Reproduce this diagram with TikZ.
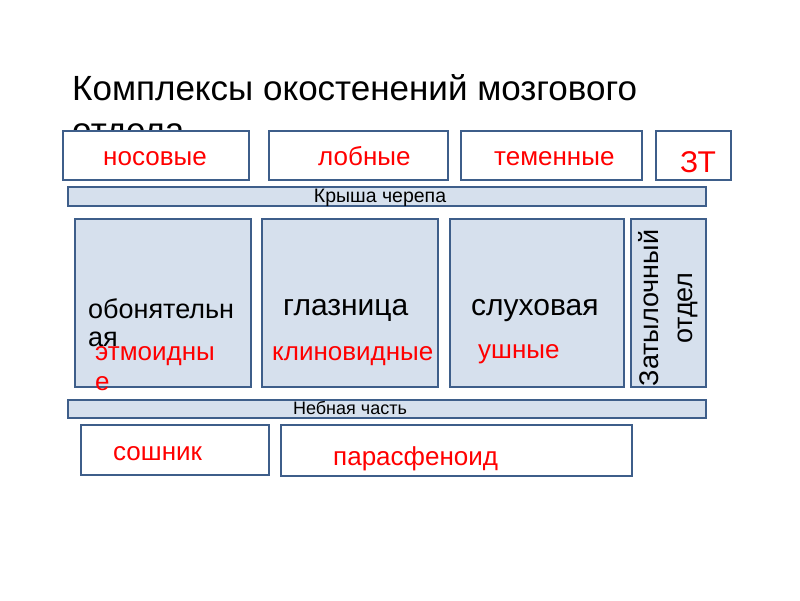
\documentclass[tikz,border=0pt]{standalone}
\usepackage{fontspec}
\setmainfont{Liberation Sans}
\definecolor{boxline}{RGB}{62,94,138}
\definecolor{boxfill}{RGB}{214,224,237}
\definecolor{lblred}{RGB}{255,0,0}
\tikzset{
  whitebox/.style={draw=boxline, line width=1.6pt, fill=white, anchor=north west, inner sep=0, outer sep=0},
  bluebox/.style={draw=boxline, line width=1.6pt, fill=boxfill, anchor=north west, inner sep=0, outer sep=0},
  redlbl/.style={text=lblred, font=\fontsize{26}{30}\selectfont, anchor=base west, inner sep=0},
  blklbl/.style={text=black, font=\fontsize{28}{32}\selectfont, anchor=base west, inner sep=0},
  barlbl/.style={text=black, font=\fontsize{18}{20}\selectfont, anchor=base, inner sep=0},
}
\begin{document}
\begin{tikzpicture}[x=1pt,y=-1pt]
\useasboundingbox (0,0) rectangle (800,600);
\fill[white] (0,0) rectangle (800,600);
% title
\node[anchor=base west, inner sep=0, font=\fontsize{35}{42}\selectfont] (t1) at (72,100) {Комплексы окостенений мозгового};
\node[anchor=base west, inner sep=0, font=\fontsize{35}{42}\selectfont] (t2) at (72,142) {отдела};
% top row
\node[whitebox, minimum width=186, minimum height=49] (b1) at (63,131) {};
\node[whitebox, minimum width=179, minimum height=49] (b2) at (269,131) {};
\node[whitebox, minimum width=181, minimum height=49] (b3) at (461,131) {};
\node[whitebox, minimum width=75, minimum height=49] (b4) at (656,131) {};
\node[redlbl] (l1) at (103,165) {носовые};
\node[redlbl] (l2) at (318,165) {лобные};
\node[redlbl] (l3) at (494,165) {теменные};
\node[redlbl, font=\fontsize{30}{34}\selectfont] (l4) at (680,172) {ЗТ};
% roof bar
\node[bluebox, minimum width=638, minimum height=19] (roof) at (68,187) {};
\node[barlbl, font=\fontsize{19.5}{22}\selectfont] (roofl) at (380,202.5) {Крыша черепа};
% middle row
\node[bluebox, minimum width=176, minimum height=168] (m1) at (75,219) {};
\node[bluebox, minimum width=176, minimum height=168] (m2) at (262,219) {};
\node[bluebox, minimum width=174, minimum height=168] (m3) at (450,219) {};
\node[bluebox, minimum width=75, minimum height=168] (m4) at (631,219) {};
\node[blklbl, font=\fontsize{27}{31}\selectfont] (o1) at (88,318) {обонятельн};
\node[blklbl, font=\fontsize{27}{31}\selectfont] (o2) at (88,346) {ая};
\node[blklbl, font=\fontsize{30}{34}\selectfont] (g1) at (283,315) {глазница};
\node[blklbl, font=\fontsize{30}{34}\selectfont] (s1) at (471,315) {слуховая};
\node[redlbl] (e1) at (95,360) {этмоидны};
\node[redlbl] (e2) at (95,390) {е};
\node[redlbl] (k1) at (272,360) {клиновидные};
\node[redlbl] (u1) at (478,358) {ушные};
\node[rotate=90, align=center, inner sep=0, font=\fontsize{27}{34}\selectfont] (z1) at (668.5,308) {Затылочный\\отдел};
% palate bar
\node[bluebox, minimum width=638, minimum height=18] (pal) at (68,400) {};
\node[barlbl] (pall) at (350,414) {Небная часть};
% bottom row
\node[whitebox, minimum width=188, minimum height=50] (c1) at (81,425) {};
\node[whitebox, minimum width=351, minimum height=51] (c2) at (281,425) {};
\node[redlbl] (sl) at (113,460) {сошник};
\node[redlbl] (pl) at (333,465) {парасфеноид};
\end{tikzpicture}
\end{document}
